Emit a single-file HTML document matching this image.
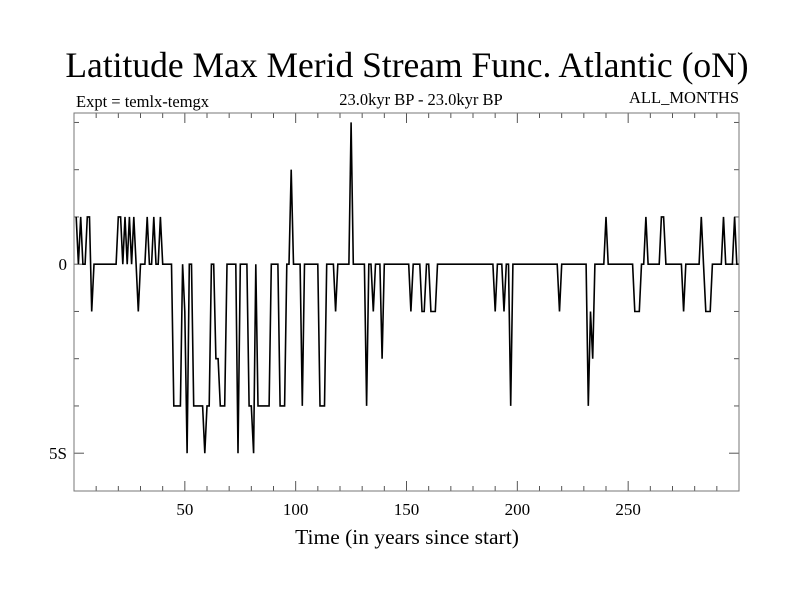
<!DOCTYPE html>
<html><head><meta charset="utf-8"><style>
body{margin:0;background:#fff}
svg text{font-family:"Liberation Serif",serif;fill:#000}
</style></head><body>
<svg id="chart" width="800" height="600" xmlns="http://www.w3.org/2000/svg">
<rect width="800" height="600" fill="#fff"/>
<text x="407" y="77" font-size="35.5" text-anchor="middle">Latitude Max Merid Stream Func. Atlantic (oN)</text>
<text x="76" y="107" font-size="16.5">Expt = temlx-temgx</text>
<text x="421" y="105" font-size="16.5" text-anchor="middle">23.0kyr BP - 23.0kyr BP</text>
<text x="739" y="103" font-size="16.5" text-anchor="end">ALL_MONTHS</text>
<g id="axes"></g>
<path id="series" fill="none" stroke="#000" stroke-width="1.6"/>
<rect x="74" y="113" width="665" height="378" fill="none" stroke="#777" stroke-width="1"/>
<text x="407" y="544" font-size="21.5" text-anchor="middle">Time (in years since start)</text>
</svg>
<script>
const eventYears = [1,3,6,7,8,20,21,23,25,27,29,33,36,39,45,46,47,48,50,51,54,55,56,57,58,59,60,61,64,65,66,67,68,74,79,80,81,83,84,85,86,87,88,93,94,95,98,103,111,112,113,118,125,132,135,139,152,157,158,161,162,163,190,194,197,219,232,233,234,240,253,254,255,258,265,266,275,283,285,286,287,293,298];
const eventValues = [1.25,1.25,1.25,1.25,-1.25,1.25,1.25,1.25,1.25,1.25,-1.25,1.25,1.25,1.25,-3.75,-3.75,-3.75,-3.75,-1.25,-5,-3.75,-3.75,-3.75,-3.75,-3.75,-5,-3.75,-3.75,-2.5,-2.5,-3.75,-3.75,-3.75,-5,-3.75,-3.75,-5,-3.75,-3.75,-3.75,-3.75,-3.75,-3.75,-3.75,-3.75,-3.75,2.5,-3.75,-3.75,-3.75,-3.75,-1.25,3.75,-3.75,-1.25,-2.5,-1.25,-1.25,-1.25,-1.25,-1.25,-1.25,-1.25,-1.25,-3.75,-1.25,-3.75,-1.25,-2.5,1.25,-1.25,-1.25,-1.25,1.25,1.25,1.25,-1.25,1.25,-1.25,-1.25,-1.25,1.25,1.25];
const xTicks = [50,100,150,200,250];
const yTickValues = [0,-5];
const yTickLabels = ["0","5S"];
const firstYear = 1, lastYear = 300;

const X0=74, X1=739, Y0=113, Y1=491;
const xMin=0, xMax=300, yMin=-6, yMax=4;
const sx = v => X0 + (v-xMin)/(xMax-xMin)*(X1-X0);
const sy = v => Y1 - (v-yMin)/(yMax-yMin)*(Y1-Y0);
const NS="http://www.w3.org/2000/svg";
const axes=document.getElementById('axes');
function line(x1,y1,x2,y2){const l=document.createElementNS(NS,'line');l.setAttribute('x1',x1);l.setAttribute('y1',y1);l.setAttribute('x2',x2);l.setAttribute('y2',y2);l.setAttribute('stroke','#555');l.setAttribute('stroke-width','1');axes.appendChild(l);return l;}
for(let v=10;v<300;v+=10){
  const major = v%50===0; const len = major?10:5; const x=sx(v);
  const t1=line(x,Y1,x,Y1-len);
  
  
  const t2=line(x,Y0,x,Y0+len);
  
  
}
xTicks.forEach(v=>{
  const t=document.createElementNS(NS,'text');
  t.setAttribute('x',sx(v));t.setAttribute('y',515);t.setAttribute('font-size','17');t.setAttribute('text-anchor','middle');
  t.textContent=v;
  
  
  axes.appendChild(t);
});
for(let v=-5;v<=3.75;v+=1.25){
  const major = yTickValues.includes(v); const len=major?10:5; const y=sy(v);
  const t1=line(X0,y,X0+len,y);
  
  
  const t2=line(X1,y,X1-len,y);
  
  
}
yTickValues.forEach((v,i)=>{
  const t=document.createElementNS(NS,'text');
  t.setAttribute('x',67);t.setAttribute('y',sy(v)+6);t.setAttribute('font-size','17');t.setAttribute('text-anchor','end');
  t.textContent=yTickLabels[i];
  
  
  axes.appendChild(t);
});
const vals={};
eventYears.forEach((y,i)=>{vals[y]=eventValues[i];});
let d='';
for(let y=firstYear;y<=lastYear;y++){
  const v = (y in vals)?vals[y]:0;
  d += (y===firstYear?'M':'L') + sx(y).toFixed(1)+','+sy(v).toFixed(1)+' ';
}
document.getElementById('series').setAttribute('d',d);
</script>
</body></html>
